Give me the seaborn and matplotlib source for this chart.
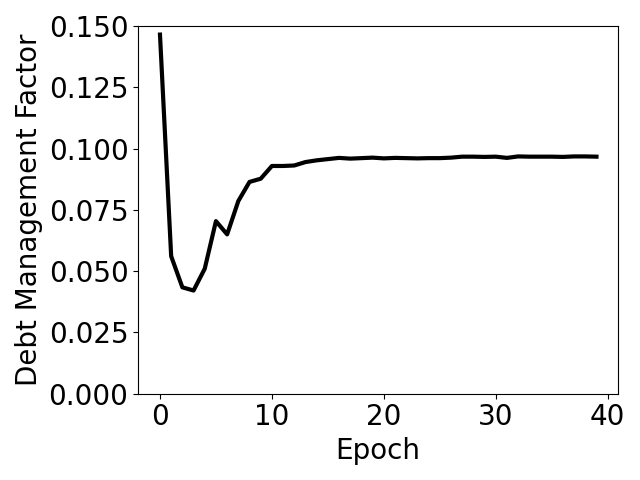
import matplotlib
matplotlib.use("Agg")
import matplotlib.pyplot as plt
import seaborn as sns
import pandas as pd
from matplotlib.ticker import FormatStrFormatter

# 学習の各エポックにおける値
epochs = list(range(40))
debt_factor = [
    0.1465, 0.0561, 0.0434, 0.0421, 0.0510, 0.0704, 0.0650, 0.0786, 0.0864, 0.0877,
    0.0929, 0.0929, 0.0931, 0.0945, 0.0952, 0.0957, 0.0962, 0.0959, 0.0961, 0.0963,
    0.0960, 0.0962, 0.0961, 0.0960, 0.0961, 0.0961, 0.0963, 0.0967, 0.0967, 0.0966,
    0.0967, 0.0962, 0.0968, 0.0967, 0.0967, 0.0967, 0.0966, 0.0968, 0.0968, 0.0967,
]

df = pd.DataFrame({"Epoch": epochs, "factor": debt_factor})

plt.figure(figsize=(6.4, 4.8), dpi=100)
ax = sns.lineplot(data=df, x="Epoch", y="factor", color="black", linewidth=3)
ax.set_ylim(0, 0.15)
ax.set_xticks([0, 10, 20, 30, 40])
ax.set_yticks([0, 0.025, 0.05, 0.075, 0.1, 0.125, 0.15])
ax.yaxis.set_major_formatter(FormatStrFormatter("%.3f"))
ax.tick_params(labelsize=20)
ax.set_xlabel("Epoch", fontsize=20)
ax.set_ylabel("Debt Management Factor", fontsize=20)
plt.tight_layout()
plt.savefig("out.png")
